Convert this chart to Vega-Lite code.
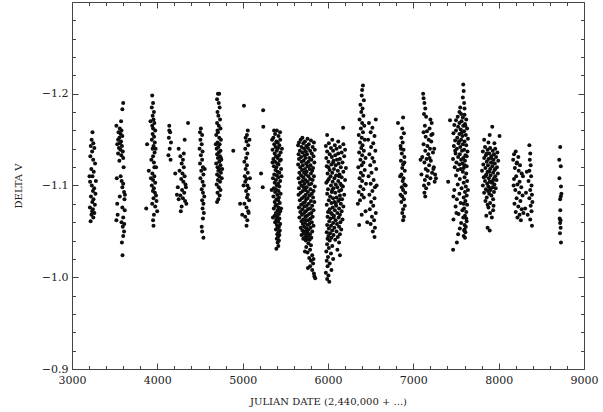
{
  "$schema": "https://vega.github.io/schema/vega-lite/v6.json",
  "width": 512,
  "height": 367,
  "autosize": {"type": "none"},
  "padding": {"left": 72, "top": 2, "right": 19, "bottom": 41},
  "config": {
    "view": {"stroke": null},
    "font": "DejaVu Serif",
    "axis": {
      "grid": false,
      "domainColor": "#444",
      "domainWidth": 1,
      "tickColor": "#444",
      "tickWidth": 1,
      "labelFont": "DejaVu Serif",
      "labelFontSize": 11,
      "labelColor": "#222",
      "labelFlush": false,
      "labelOverlap": false,
      "labelBound": false,
      "titleFont": "DejaVu Serif",
      "titleFontSize": 10,
      "titleFontWeight": "normal",
      "titleColor": "#222"
    }
  },
  "data": {"values": [
    {"jd":3240,"dv":-1.158},{"jd":3230,"dv":-1.150},{"jd":3250,"dv":-1.146},{"jd":3220,"dv":-1.143},{"jd":3262,"dv":-1.141},{"jd":3236,"dv":-1.137},{"jd":3215,"dv":-1.132},{"jd":3248,"dv":-1.128},{"jd":3270,"dv":-1.124},{"jd":3226,"dv":-1.118},{"jd":3255,"dv":-1.115},{"jd":3240,"dv":-1.110},{"jd":3212,"dv":-1.104},{"jd":3232,"dv":-1.100},{"jd":3260,"dv":-1.097},{"jd":3245,"dv":-1.094},{"jd":3275,"dv":-1.091},{"jd":3222,"dv":-1.088},{"jd":3252,"dv":-1.085},{"jd":3238,"dv":-1.082},{"jd":3268,"dv":-1.079},{"jd":3210,"dv":-1.076},{"jd":3245,"dv":-1.074},{"jd":3262,"dv":-1.070},{"jd":3228,"dv":-1.068},{"jd":3250,"dv":-1.065},{"jd":3218,"dv":-1.061},{"jd":3236,"dv":-1.072},{"jd":3280,"dv":-1.105},{"jd":3205,"dv":-1.110},
    {"jd":3600,"dv":-1.190},{"jd":3590,"dv":-1.183},{"jd":3575,"dv":-1.170},{"jd":3520,"dv":-1.165},{"jd":3560,"dv":-1.162},{"jd":3580,"dv":-1.160},{"jd":3545,"dv":-1.158},{"jd":3570,"dv":-1.156},{"jd":3590,"dv":-1.154},{"jd":3555,"dv":-1.152},{"jd":3540,"dv":-1.150},{"jd":3575,"dv":-1.148},{"jd":3560,"dv":-1.146},{"jd":3530,"dv":-1.145},{"jd":3585,"dv":-1.143},{"jd":3550,"dv":-1.141},{"jd":3568,"dv":-1.139},{"jd":3595,"dv":-1.137},{"jd":3540,"dv":-1.135},{"jd":3578,"dv":-1.133},{"jd":3600,"dv":-1.130},{"jd":3555,"dv":-1.127},{"jd":3605,"dv":-1.120},{"jd":3570,"dv":-1.110},{"jd":3525,"dv":-1.108},{"jd":3582,"dv":-1.105},{"jd":3600,"dv":-1.102},{"jd":3590,"dv":-1.098},{"jd":3610,"dv":-1.093},{"jd":3620,"dv":-1.090},{"jd":3560,"dv":-1.088},{"jd":3615,"dv":-1.085},{"jd":3530,"dv":-1.080},{"jd":3590,"dv":-1.076},{"jd":3618,"dv":-1.073},{"jd":3535,"dv":-1.068},{"jd":3600,"dv":-1.065},{"jd":3520,"dv":-1.062},{"jd":3580,"dv":-1.060},{"jd":3612,"dv":-1.058},{"jd":3595,"dv":-1.055},{"jd":3600,"dv":-1.045},{"jd":3585,"dv":-1.038},{"jd":3592,"dv":-1.024},{"jd":3610,"dv":-1.050},
    {"jd":3940,"dv":-1.198},{"jd":3950,"dv":-1.190},{"jd":3935,"dv":-1.185},{"jd":3960,"dv":-1.180},{"jd":3945,"dv":-1.176},{"jd":3955,"dv":-1.172},{"jd":3965,"dv":-1.168},{"jd":3940,"dv":-1.165},{"jd":3950,"dv":-1.162},{"jd":3975,"dv":-1.160},{"jd":3945,"dv":-1.156},{"jd":3962,"dv":-1.153},{"jd":3935,"dv":-1.150},{"jd":3970,"dv":-1.147},{"jd":3880,"dv":-1.145},{"jd":3955,"dv":-1.143},{"jd":3945,"dv":-1.140},{"jd":3968,"dv":-1.136},{"jd":3950,"dv":-1.132},{"jd":3930,"dv":-1.128},{"jd":3960,"dv":-1.125},{"jd":3985,"dv":-1.120},{"jd":3900,"dv":-1.116},{"jd":3942,"dv":-1.113},{"jd":3965,"dv":-1.110},{"jd":3950,"dv":-1.106},{"jd":3975,"dv":-1.103},{"jd":3935,"dv":-1.100},{"jd":3960,"dv":-1.097},{"jd":3948,"dv":-1.094},{"jd":3972,"dv":-1.092},{"jd":3985,"dv":-1.089},{"jd":3955,"dv":-1.086},{"jd":3990,"dv":-1.083},{"jd":3940,"dv":-1.080},{"jd":3975,"dv":-1.077},{"jd":3870,"dv":-1.075},{"jd":3998,"dv":-1.072},{"jd":3960,"dv":-1.068},{"jd":3950,"dv":-1.062},{"jd":3955,"dv":-1.056},{"jd":3965,"dv":-1.120},{"jd":3925,"dv":-1.108},{"jd":3980,"dv":-1.140},{"jd":3920,"dv":-1.170},
    {"jd":4140,"dv":-1.165},{"jd":4150,"dv":-1.158},{"jd":4135,"dv":-1.152},{"jd":4160,"dv":-1.147},{"jd":4145,"dv":-1.140},{"jd":4130,"dv":-1.133},{"jd":4155,"dv":-1.128},{"jd":4140,"dv":-1.160},{"jd":4360,"dv":-1.168},{"jd":4320,"dv":-1.150},{"jd":4250,"dv":-1.140},{"jd":4270,"dv":-1.132},{"jd":4300,"dv":-1.128},{"jd":4285,"dv":-1.124},{"jd":4310,"dv":-1.120},{"jd":4260,"dv":-1.116},{"jd":4295,"dv":-1.113},{"jd":4320,"dv":-1.110},{"jd":4280,"dv":-1.107},{"jd":4305,"dv":-1.104},{"jd":4330,"dv":-1.101},{"jd":4240,"dv":-1.098},{"jd":4290,"dv":-1.095},{"jd":4315,"dv":-1.092},{"jd":4270,"dv":-1.089},{"jd":4300,"dv":-1.086},{"jd":4325,"dv":-1.083},{"jd":4340,"dv":-1.080},{"jd":4285,"dv":-1.077},{"jd":4230,"dv":-1.090},{"jd":4250,"dv":-1.085},{"jd":4210,"dv":-1.113},{"jd":4310,"dv":-1.135},{"jd":4335,"dv":-1.098},{"jd":4275,"dv":-1.072},
    {"jd":4510,"dv":-1.162},{"jd":4500,"dv":-1.158},{"jd":4525,"dv":-1.155},{"jd":4505,"dv":-1.150},{"jd":4520,"dv":-1.145},{"jd":4495,"dv":-1.140},{"jd":4530,"dv":-1.137},{"jd":4510,"dv":-1.133},{"jd":4525,"dv":-1.128},{"jd":4500,"dv":-1.124},{"jd":4535,"dv":-1.120},{"jd":4515,"dv":-1.116},{"jd":4540,"dv":-1.112},{"jd":4505,"dv":-1.108},{"jd":4530,"dv":-1.104},{"jd":4545,"dv":-1.100},{"jd":4520,"dv":-1.096},{"jd":4535,"dv":-1.092},{"jd":4550,"dv":-1.088},{"jd":4525,"dv":-1.084},{"jd":4540,"dv":-1.080},{"jd":4530,"dv":-1.075},{"jd":4545,"dv":-1.070},{"jd":4535,"dv":-1.064},{"jd":4520,"dv":-1.055},{"jd":4525,"dv":-1.050},{"jd":4540,"dv":-1.043},{"jd":4555,"dv":-1.118},
    {"jd":4710,"dv":-1.200},{"jd":4725,"dv":-1.200},{"jd":4700,"dv":-1.194},{"jd":4720,"dv":-1.190},{"jd":4730,"dv":-1.185},{"jd":4705,"dv":-1.180},{"jd":4715,"dv":-1.176},{"jd":4735,"dv":-1.172},{"jd":4700,"dv":-1.168},{"jd":4720,"dv":-1.165},{"jd":4740,"dv":-1.162},{"jd":4710,"dv":-1.158},{"jd":4690,"dv":-1.155},{"jd":4725,"dv":-1.152},{"jd":4745,"dv":-1.150},{"jd":4705,"dv":-1.147},{"jd":4730,"dv":-1.145},{"jd":4715,"dv":-1.142},{"jd":4695,"dv":-1.140},{"jd":4740,"dv":-1.138},{"jd":4720,"dv":-1.136},{"jd":4700,"dv":-1.134},{"jd":4735,"dv":-1.132},{"jd":4710,"dv":-1.130},{"jd":4750,"dv":-1.128},{"jd":4725,"dv":-1.126},{"jd":4690,"dv":-1.124},{"jd":4740,"dv":-1.122},{"jd":4705,"dv":-1.120},{"jd":4730,"dv":-1.118},{"jd":4715,"dv":-1.116},{"jd":4745,"dv":-1.114},{"jd":4700,"dv":-1.112},{"jd":4725,"dv":-1.110},{"jd":4755,"dv":-1.108},{"jd":4710,"dv":-1.106},{"jd":4735,"dv":-1.104},{"jd":4695,"dv":-1.101},{"jd":4720,"dv":-1.098},{"jd":4740,"dv":-1.095},{"jd":4705,"dv":-1.092},{"jd":4730,"dv":-1.089},{"jd":4715,"dv":-1.085},{"jd":4700,"dv":-1.082},{"jd":4745,"dv":-1.130},{"jd":4685,"dv":-1.145},{"jd":4760,"dv":-1.118},{"jd":4705,"dv":-1.160},
    {"jd":4890,"dv":-1.138},{"jd":5015,"dv":-1.187},{"jd":5060,"dv":-1.160},{"jd":5050,"dv":-1.155},{"jd":5035,"dv":-1.152},{"jd":5045,"dv":-1.148},{"jd":5065,"dv":-1.144},{"jd":5030,"dv":-1.140},{"jd":5055,"dv":-1.135},{"jd":5040,"dv":-1.130},{"jd":5020,"dv":-1.126},{"jd":5050,"dv":-1.122},{"jd":5035,"dv":-1.118},{"jd":5060,"dv":-1.114},{"jd":5025,"dv":-1.110},{"jd":5045,"dv":-1.107},{"jd":5030,"dv":-1.104},{"jd":5055,"dv":-1.100},{"jd":5070,"dv":-1.097},{"jd":5040,"dv":-1.094},{"jd":5060,"dv":-1.090},{"jd":5050,"dv":-1.087},{"jd":5075,"dv":-1.084},{"jd":5020,"dv":-1.080},{"jd":5045,"dv":-1.076},{"jd":5065,"dv":-1.072},{"jd":4970,"dv":-1.080},{"jd":4995,"dv":-1.068},{"jd":5030,"dv":-1.066},{"jd":5055,"dv":-1.062},{"jd":5045,"dv":-1.056},{"jd":5070,"dv":-1.070},{"jd":5080,"dv":-1.150},{"jd":5010,"dv":-1.100},{"jd":5085,"dv":-1.108},
    {"jd":5240,"dv":-1.182},{"jd":5242,"dv":-1.164},{"jd":5215,"dv":-1.113},{"jd":5235,"dv":-1.098},
    {"jd":5400,"dv":-1.160},{"jd":5380,"dv":-1.156},{"jd":5420,"dv":-1.154},{"jd":5360,"dv":-1.152},{"jd":5440,"dv":-1.150},{"jd":5395,"dv":-1.148},{"jd":5410,"dv":-1.147},{"jd":5370,"dv":-1.145},{"jd":5430,"dv":-1.144},{"jd":5385,"dv":-1.142},{"jd":5415,"dv":-1.141},{"jd":5350,"dv":-1.139},{"jd":5400,"dv":-1.138},{"jd":5445,"dv":-1.136},{"jd":5375,"dv":-1.135},{"jd":5425,"dv":-1.133},{"jd":5390,"dv":-1.132},{"jd":5410,"dv":-1.130},{"jd":5360,"dv":-1.129},{"jd":5435,"dv":-1.127},{"jd":5380,"dv":-1.126},{"jd":5405,"dv":-1.124},{"jd":5420,"dv":-1.123},{"jd":5365,"dv":-1.121},{"jd":5395,"dv":-1.120},{"jd":5450,"dv":-1.118},{"jd":5385,"dv":-1.117},{"jd":5410,"dv":-1.115},{"jd":5430,"dv":-1.114},{"jd":5370,"dv":-1.112},{"jd":5400,"dv":-1.111},{"jd":5420,"dv":-1.109},{"jd":5355,"dv":-1.108},{"jd":5390,"dv":-1.106},{"jd":5440,"dv":-1.105},{"jd":5375,"dv":-1.103},{"jd":5415,"dv":-1.102},{"jd":5400,"dv":-1.100},{"jd":5430,"dv":-1.099},{"jd":5365,"dv":-1.097},{"jd":5390,"dv":-1.096},{"jd":5420,"dv":-1.094},{"jd":5380,"dv":-1.093},{"jd":5445,"dv":-1.091},{"jd":5405,"dv":-1.090},{"jd":5360,"dv":-1.088},{"jd":5425,"dv":-1.087},{"jd":5395,"dv":-1.085},{"jd":5415,"dv":-1.084},{"jd":5375,"dv":-1.082},{"jd":5435,"dv":-1.081},{"jd":5400,"dv":-1.079},{"jd":5385,"dv":-1.078},{"jd":5420,"dv":-1.076},{"jd":5365,"dv":-1.075},{"jd":5410,"dv":-1.073},{"jd":5440,"dv":-1.072},{"jd":5390,"dv":-1.070},{"jd":5425,"dv":-1.069},{"jd":5375,"dv":-1.067},{"jd":5405,"dv":-1.066},{"jd":5430,"dv":-1.064},{"jd":5395,"dv":-1.063},{"jd":5415,"dv":-1.061},{"jd":5380,"dv":-1.060},{"jd":5440,"dv":-1.058},{"jd":5400,"dv":-1.057},{"jd":5425,"dv":-1.055},{"jd":5410,"dv":-1.054},{"jd":5390,"dv":-1.052},{"jd":5435,"dv":-1.051},{"jd":5420,"dv":-1.049},{"jd":5405,"dv":-1.047},{"jd":5430,"dv":-1.046},{"jd":5415,"dv":-1.044},{"jd":5400,"dv":-1.042},{"jd":5425,"dv":-1.040},{"jd":5410,"dv":-1.038},{"jd":5418,"dv":-1.034},{"jd":5395,"dv":-1.031},{"jd":5350,"dv":-1.125},{"jd":5455,"dv":-1.110},{"jd":5340,"dv":-1.095},{"jd":5460,"dv":-1.140},{"jd":5345,"dv":-1.150},{"jd":5450,"dv":-1.075},{"jd":5355,"dv":-1.065},{"jd":5448,"dv":-1.128},{"jd":5368,"dv":-1.160},{"jd":5438,"dv":-1.158},
    {"jd":5700,"dv":-1.152},{"jd":5760,"dv":-1.151},{"jd":5680,"dv":-1.150},{"jd":5800,"dv":-1.149},{"jd":5730,"dv":-1.148},{"jd":5660,"dv":-1.147},{"jd":5835,"dv":-1.147},{"jd":5710,"dv":-1.146},{"jd":5775,"dv":-1.145},{"jd":5650,"dv":-1.144},{"jd":5745,"dv":-1.143},{"jd":5820,"dv":-1.142},{"jd":5690,"dv":-1.142},{"jd":5765,"dv":-1.141},{"jd":5720,"dv":-1.140},{"jd":5845,"dv":-1.139},{"jd":5670,"dv":-1.138},{"jd":5790,"dv":-1.138},{"jd":5740,"dv":-1.137},{"jd":5700,"dv":-1.136},{"jd":5810,"dv":-1.135},{"jd":5655,"dv":-1.134},{"jd":5755,"dv":-1.134},{"jd":5725,"dv":-1.133},{"jd":5830,"dv":-1.132},{"jd":5685,"dv":-1.131},{"jd":5780,"dv":-1.130},{"jd":5735,"dv":-1.130},{"jd":5660,"dv":-1.129},{"jd":5805,"dv":-1.128},{"jd":5715,"dv":-1.127},{"jd":5770,"dv":-1.126},{"jd":5690,"dv":-1.126},{"jd":5840,"dv":-1.125},{"jd":5745,"dv":-1.124},{"jd":5650,"dv":-1.123},{"jd":5795,"dv":-1.122},{"jd":5705,"dv":-1.122},{"jd":5760,"dv":-1.121},{"jd":5675,"dv":-1.120},{"jd":5825,"dv":-1.119},{"jd":5730,"dv":-1.118},{"jd":5785,"dv":-1.118},{"jd":5695,"dv":-1.117},{"jd":5815,"dv":-1.116},{"jd":5750,"dv":-1.115},{"jd":5665,"dv":-1.114},{"jd":5720,"dv":-1.114},{"jd":5800,"dv":-1.113},{"jd":5740,"dv":-1.112},{"jd":5685,"dv":-1.111},{"jd":5835,"dv":-1.110},{"jd":5770,"dv":-1.110},{"jd":5710,"dv":-1.109},{"jd":5655,"dv":-1.108},{"jd":5790,"dv":-1.107},{"jd":5735,"dv":-1.106},{"jd":5820,"dv":-1.106},{"jd":5700,"dv":-1.105},{"jd":5760,"dv":-1.104},{"jd":5670,"dv":-1.103},{"jd":5805,"dv":-1.102},{"jd":5725,"dv":-1.102},{"jd":5780,"dv":-1.101},{"jd":5690,"dv":-1.100},{"jd":5845,"dv":-1.099},{"jd":5750,"dv":-1.098},{"jd":5715,"dv":-1.098},{"jd":5660,"dv":-1.097},{"jd":5795,"dv":-1.096},{"jd":5735,"dv":-1.095},{"jd":5830,"dv":-1.094},{"jd":5705,"dv":-1.094},{"jd":5765,"dv":-1.093},{"jd":5680,"dv":-1.092},{"jd":5810,"dv":-1.091},{"jd":5740,"dv":-1.090},{"jd":5655,"dv":-1.090},{"jd":5785,"dv":-1.089},{"jd":5720,"dv":-1.088},{"jd":5825,"dv":-1.087},{"jd":5695,"dv":-1.086},{"jd":5760,"dv":-1.086},{"jd":5745,"dv":-1.085},{"jd":5670,"dv":-1.084},{"jd":5800,"dv":-1.083},{"jd":5730,"dv":-1.082},{"jd":5840,"dv":-1.082},{"jd":5710,"dv":-1.081},{"jd":5775,"dv":-1.080},{"jd":5685,"dv":-1.079},{"jd":5815,"dv":-1.078},{"jd":5750,"dv":-1.078},{"jd":5725,"dv":-1.077},{"jd":5660,"dv":-1.076},{"jd":5790,"dv":-1.075},{"jd":5700,"dv":-1.074},{"jd":5765,"dv":-1.074},{"jd":5830,"dv":-1.073},{"jd":5740,"dv":-1.072},{"jd":5675,"dv":-1.071},{"jd":5805,"dv":-1.070},{"jd":5720,"dv":-1.070},{"jd":5780,"dv":-1.069},{"jd":5695,"dv":-1.068},{"jd":5755,"dv":-1.067},{"jd":5820,"dv":-1.066},{"jd":5735,"dv":-1.066},{"jd":5665,"dv":-1.065},{"jd":5795,"dv":-1.064},{"jd":5710,"dv":-1.063},{"jd":5770,"dv":-1.062},{"jd":5745,"dv":-1.062},{"jd":5690,"dv":-1.061},{"jd":5810,"dv":-1.060},{"jd":5730,"dv":-1.059},{"jd":5780,"dv":-1.058},{"jd":5705,"dv":-1.058},{"jd":5760,"dv":-1.057},{"jd":5830,"dv":-1.056},{"jd":5720,"dv":-1.055},{"jd":5680,"dv":-1.054},{"jd":5795,"dv":-1.054},{"jd":5745,"dv":-1.053},{"jd":5770,"dv":-1.052},{"jd":5700,"dv":-1.051},{"jd":5815,"dv":-1.050},{"jd":5735,"dv":-1.050},{"jd":5760,"dv":-1.049},{"jd":5715,"dv":-1.048},{"jd":5790,"dv":-1.047},{"jd":5750,"dv":-1.046},{"jd":5690,"dv":-1.046},{"jd":5775,"dv":-1.045},{"jd":5730,"dv":-1.044},{"jd":5805,"dv":-1.043},{"jd":5755,"dv":-1.042},{"jd":5710,"dv":-1.042},{"jd":5785,"dv":-1.041},{"jd":5740,"dv":-1.040},{"jd":5770,"dv":-1.037},{"jd":5800,"dv":-1.035},{"jd":5745,"dv":-1.033},{"jd":5790,"dv":-1.030},{"jd":5760,"dv":-1.027},{"jd":5815,"dv":-1.024},{"jd":5780,"dv":-1.021},{"jd":5800,"dv":-1.018},{"jd":5825,"dv":-1.015},{"jd":5790,"dv":-1.012},{"jd":5815,"dv":-1.008},{"jd":5835,"dv":-1.004},{"jd":5840,"dv":-1.001},{"jd":5850,"dv":-0.999},{"jd":5830,"dv":-1.020},{"jd":5765,"dv":-1.010},{"jd":5730,"dv":-1.028},
    {"jd":5990,"dv":-1.155},{"jd":6050,"dv":-1.150},{"jd":6120,"dv":-1.148},{"jd":6010,"dv":-1.146},{"jd":6180,"dv":-1.145},{"jd":6080,"dv":-1.144},{"jd":5975,"dv":-1.143},{"jd":6140,"dv":-1.142},{"jd":6035,"dv":-1.141},{"jd":6100,"dv":-1.140},{"jd":6200,"dv":-1.139},{"jd":6060,"dv":-1.138},{"jd":5990,"dv":-1.137},{"jd":6160,"dv":-1.136},{"jd":6120,"dv":-1.135},{"jd":6020,"dv":-1.134},{"jd":6085,"dv":-1.133},{"jd":6190,"dv":-1.132},{"jd":6045,"dv":-1.131},{"jd":5980,"dv":-1.130},{"jd":6140,"dv":-1.129},{"jd":6105,"dv":-1.128},{"jd":6065,"dv":-1.127},{"jd":6005,"dv":-1.126},{"jd":6170,"dv":-1.125},{"jd":6125,"dv":-1.124},{"jd":6040,"dv":-1.123},{"jd":6090,"dv":-1.122},{"jd":5985,"dv":-1.121},{"jd":6150,"dv":-1.120},{"jd":6210,"dv":-1.119},{"jd":6070,"dv":-1.118},{"jd":6020,"dv":-1.117},{"jd":6115,"dv":-1.116},{"jd":6180,"dv":-1.115},{"jd":6050,"dv":-1.114},{"jd":5995,"dv":-1.113},{"jd":6135,"dv":-1.112},{"jd":6095,"dv":-1.111},{"jd":6030,"dv":-1.110},{"jd":6160,"dv":-1.109},{"jd":6075,"dv":-1.108},{"jd":6010,"dv":-1.107},{"jd":6200,"dv":-1.106},{"jd":6120,"dv":-1.105},{"jd":6055,"dv":-1.104},{"jd":5980,"dv":-1.103},{"jd":6145,"dv":-1.102},{"jd":6090,"dv":-1.101},{"jd":6035,"dv":-1.100},{"jd":6175,"dv":-1.099},{"jd":6110,"dv":-1.098},{"jd":6065,"dv":-1.097},{"jd":6000,"dv":-1.096},{"jd":6155,"dv":-1.095},{"jd":6130,"dv":-1.094},{"jd":6045,"dv":-1.093},{"jd":6085,"dv":-1.092},{"jd":5990,"dv":-1.091},{"jd":6190,"dv":-1.090},{"jd":6140,"dv":-1.089},{"jd":6025,"dv":-1.088},{"jd":6100,"dv":-1.087},{"jd":6060,"dv":-1.086},{"jd":6165,"dv":-1.085},{"jd":6010,"dv":-1.084},{"jd":6120,"dv":-1.083},{"jd":6075,"dv":-1.082},{"jd":6040,"dv":-1.081},{"jd":6150,"dv":-1.080},{"jd":5985,"dv":-1.079},{"jd":6095,"dv":-1.078},{"jd":6180,"dv":-1.077},{"jd":6055,"dv":-1.076},{"jd":6130,"dv":-1.075},{"jd":6020,"dv":-1.074},{"jd":6080,"dv":-1.073},{"jd":6160,"dv":-1.072},{"jd":6000,"dv":-1.071},{"jd":6110,"dv":-1.070},{"jd":6045,"dv":-1.069},{"jd":6140,"dv":-1.068},{"jd":6070,"dv":-1.067},{"jd":5995,"dv":-1.066},{"jd":6125,"dv":-1.065},{"jd":6030,"dv":-1.064},{"jd":6170,"dv":-1.063},{"jd":6090,"dv":-1.062},{"jd":6015,"dv":-1.061},{"jd":6145,"dv":-1.060},{"jd":6060,"dv":-1.059},{"jd":6105,"dv":-1.058},{"jd":5990,"dv":-1.057},{"jd":6035,"dv":-1.056},{"jd":6130,"dv":-1.055},{"jd":6075,"dv":-1.054},{"jd":6010,"dv":-1.053},{"jd":6155,"dv":-1.052},{"jd":6050,"dv":-1.051},{"jd":6100,"dv":-1.050},{"jd":5985,"dv":-1.049},{"jd":6025,"dv":-1.048},{"jd":6140,"dv":-1.047},{"jd":6065,"dv":-1.046},{"jd":6005,"dv":-1.045},{"jd":6115,"dv":-1.044},{"jd":6040,"dv":-1.043},{"jd":5995,"dv":-1.042},{"jd":6085,"dv":-1.041},{"jd":6020,"dv":-1.040},{"jd":6130,"dv":-1.038},{"jd":5990,"dv":-1.036},{"jd":6050,"dv":-1.034},{"jd":6010,"dv":-1.032},{"jd":6110,"dv":-1.030},{"jd":5980,"dv":-1.028},{"jd":6035,"dv":-1.026},{"jd":6140,"dv":-1.024},{"jd":6000,"dv":-1.022},{"jd":6060,"dv":-1.020},{"jd":5985,"dv":-1.018},{"jd":6020,"dv":-1.015},{"jd":5995,"dv":-1.012},{"jd":6040,"dv":-1.008},{"jd":5975,"dv":-1.005},{"jd":6005,"dv":-1.002},{"jd":5990,"dv":-0.998},{"jd":6015,"dv":-0.995},{"jd":6060,"dv":-1.125},{"jd":6130,"dv":-1.110},{"jd":6050,"dv":-1.095},{"jd":6090,"dv":-1.080},{"jd":6065,"dv":-1.065},{"jd":5995,"dv":-1.105},{"jd":6140,"dv":-1.085},{"jd":6035,"dv":-1.070},{"jd":6005,"dv":-1.120},{"jd":6160,"dv":-1.100},
    {"jd":6177,"dv":-1.163},
    {"jd":6410,"dv":-1.209},{"jd":6400,"dv":-1.204},{"jd":6395,"dv":-1.198},{"jd":6420,"dv":-1.193},{"jd":6380,"dv":-1.188},{"jd":6405,"dv":-1.184},{"jd":6390,"dv":-1.180},{"jd":6415,"dv":-1.176},{"jd":6370,"dv":-1.172},{"jd":6400,"dv":-1.168},{"jd":6425,"dv":-1.165},{"jd":6385,"dv":-1.162},{"jd":6410,"dv":-1.158},{"jd":6360,"dv":-1.155},{"jd":6395,"dv":-1.152},{"jd":6430,"dv":-1.150},{"jd":6375,"dv":-1.147},{"jd":6405,"dv":-1.144},{"jd":6390,"dv":-1.141},{"jd":6420,"dv":-1.138},{"jd":6365,"dv":-1.136},{"jd":6400,"dv":-1.133},{"jd":6440,"dv":-1.130},{"jd":6380,"dv":-1.128},{"jd":6415,"dv":-1.125},{"jd":6395,"dv":-1.122},{"jd":6355,"dv":-1.120},{"jd":6430,"dv":-1.117},{"jd":6385,"dv":-1.114},{"jd":6410,"dv":-1.111},{"jd":6370,"dv":-1.108},{"jd":6400,"dv":-1.105},{"jd":6445,"dv":-1.102},{"jd":6380,"dv":-1.099},{"jd":6415,"dv":-1.096},{"jd":6360,"dv":-1.093},{"jd":6395,"dv":-1.090},{"jd":6420,"dv":-1.087},{"jd":6375,"dv":-1.084},{"jd":6350,"dv":-1.080},{"jd":6365,"dv":-1.057},{"jd":6395,"dv":-1.068},
    {"jd":6560,"dv":-1.172},{"jd":6480,"dv":-1.168},{"jd":6520,"dv":-1.163},{"jd":6500,"dv":-1.158},{"jd":6545,"dv":-1.154},{"jd":6470,"dv":-1.150},{"jd":6530,"dv":-1.146},{"jd":6505,"dv":-1.142},{"jd":6555,"dv":-1.138},{"jd":6485,"dv":-1.134},{"jd":6520,"dv":-1.130},{"jd":6540,"dv":-1.126},{"jd":6495,"dv":-1.122},{"jd":6565,"dv":-1.118},{"jd":6510,"dv":-1.114},{"jd":6475,"dv":-1.110},{"jd":6535,"dv":-1.106},{"jd":6500,"dv":-1.102},{"jd":6550,"dv":-1.098},{"jd":6520,"dv":-1.094},{"jd":6485,"dv":-1.090},{"jd":6545,"dv":-1.086},{"jd":6505,"dv":-1.082},{"jd":6530,"dv":-1.078},{"jd":6490,"dv":-1.074},{"jd":6560,"dv":-1.070},{"jd":6515,"dv":-1.066},{"jd":6540,"dv":-1.062},{"jd":6500,"dv":-1.058},{"jd":6550,"dv":-1.054},{"jd":6525,"dv":-1.050},{"jd":6545,"dv":-1.044},{"jd":6460,"dv":-1.060},{"jd":6440,"dv":-1.072},{"jd":6570,"dv":-1.100},
    {"jd":6880,"dv":-1.174},{"jd":6820,"dv":-1.168},{"jd":6870,"dv":-1.162},{"jd":6890,"dv":-1.157},{"jd":6860,"dv":-1.152},{"jd":6875,"dv":-1.147},{"jd":6850,"dv":-1.143},{"jd":6885,"dv":-1.139},{"jd":6865,"dv":-1.135},{"jd":6895,"dv":-1.131},{"jd":6855,"dv":-1.127},{"jd":6880,"dv":-1.123},{"jd":6870,"dv":-1.119},{"jd":6900,"dv":-1.116},{"jd":6860,"dv":-1.112},{"jd":6885,"dv":-1.108},{"jd":6875,"dv":-1.105},{"jd":6895,"dv":-1.101},{"jd":6865,"dv":-1.098},{"jd":6880,"dv":-1.095},{"jd":6905,"dv":-1.092},{"jd":6870,"dv":-1.088},{"jd":6890,"dv":-1.085},{"jd":6860,"dv":-1.082},{"jd":6900,"dv":-1.078},{"jd":6880,"dv":-1.074},{"jd":6870,"dv":-1.070},{"jd":6890,"dv":-1.066},{"jd":6880,"dv":-1.062},{"jd":6855,"dv":-1.140},{"jd":6895,"dv":-1.125},{"jd":6845,"dv":-1.110},{"jd":6910,"dv":-1.100},{"jd":6850,"dv":-1.090},
    {"jd":7115,"dv":-1.200},{"jd":7120,"dv":-1.195},{"jd":7130,"dv":-1.190},{"jd":7140,"dv":-1.184},{"jd":7125,"dv":-1.178},{"jd":7150,"dv":-1.175},{"jd":7200,"dv":-1.172},{"jd":7215,"dv":-1.168},{"jd":7135,"dv":-1.165},{"jd":7190,"dv":-1.162},{"jd":7160,"dv":-1.159},{"jd":7225,"dv":-1.156},{"jd":7145,"dv":-1.153},{"jd":7180,"dv":-1.150},{"jd":7210,"dv":-1.148},{"jd":7120,"dv":-1.145},{"jd":7165,"dv":-1.143},{"jd":7195,"dv":-1.140},{"jd":7140,"dv":-1.138},{"jd":7230,"dv":-1.136},{"jd":7175,"dv":-1.134},{"jd":7105,"dv":-1.131},{"jd":7155,"dv":-1.129},{"jd":7205,"dv":-1.127},{"jd":7130,"dv":-1.125},{"jd":7185,"dv":-1.122},{"jd":7240,"dv":-1.120},{"jd":7145,"dv":-1.118},{"jd":7170,"dv":-1.116},{"jd":7220,"dv":-1.114},{"jd":7095,"dv":-1.112},{"jd":7160,"dv":-1.110},{"jd":7200,"dv":-1.108},{"jd":7135,"dv":-1.106},{"jd":7250,"dv":-1.104},{"jd":7180,"dv":-1.102},{"jd":7125,"dv":-1.100},{"jd":7150,"dv":-1.097},{"jd":7235,"dv":-1.118},{"jd":7255,"dv":-1.112},{"jd":7265,"dv":-1.108},{"jd":7130,"dv":-1.092},{"jd":7140,"dv":-1.088},{"jd":7085,"dv":-1.128},{"jd":7190,"dv":-1.130},{"jd":7210,"dv":-1.155},{"jd":7245,"dv":-1.140},{"jd":7120,"dv":-1.158},
    {"jd":7585,"dv":-1.210},{"jd":7590,"dv":-1.203},{"jd":7580,"dv":-1.196},{"jd":7595,"dv":-1.190},{"jd":7550,"dv":-1.185},{"jd":7600,"dv":-1.184},{"jd":7540,"dv":-1.180},{"jd":7430,"dv":-1.171},
    {"jd":7560,"dv":-1.178},{"jd":7600,"dv":-1.177},{"jd":7520,"dv":-1.175},{"jd":7580,"dv":-1.174},{"jd":7620,"dv":-1.172},{"jd":7500,"dv":-1.171},{"jd":7565,"dv":-1.170},{"jd":7540,"dv":-1.168},{"jd":7605,"dv":-1.167},{"jd":7480,"dv":-1.166},{"jd":7585,"dv":-1.165},{"jd":7525,"dv":-1.164},{"jd":7630,"dv":-1.162},{"jd":7555,"dv":-1.161},{"jd":7500,"dv":-1.160},{"jd":7595,"dv":-1.159},{"jd":7470,"dv":-1.157},{"jd":7540,"dv":-1.156},{"jd":7615,"dv":-1.155},{"jd":7575,"dv":-1.154},{"jd":7515,"dv":-1.152},{"jd":7640,"dv":-1.151},{"jd":7560,"dv":-1.150},{"jd":7490,"dv":-1.149},{"jd":7600,"dv":-1.148},{"jd":7530,"dv":-1.146},{"jd":7580,"dv":-1.145},{"jd":7620,"dv":-1.144},{"jd":7475,"dv":-1.143},{"jd":7550,"dv":-1.142},{"jd":7510,"dv":-1.140},{"jd":7595,"dv":-1.139},{"jd":7570,"dv":-1.138},{"jd":7635,"dv":-1.137},{"jd":7495,"dv":-1.135},{"jd":7545,"dv":-1.134},{"jd":7610,"dv":-1.133},{"jd":7525,"dv":-1.131},{"jd":7585,"dv":-1.130},{"jd":7465,"dv":-1.129},{"jd":7560,"dv":-1.128},{"jd":7605,"dv":-1.127},{"jd":7505,"dv":-1.125},{"jd":7575,"dv":-1.124},{"jd":7540,"dv":-1.123},{"jd":7625,"dv":-1.121},{"jd":7485,"dv":-1.120},{"jd":7590,"dv":-1.119},{"jd":7555,"dv":-1.118},{"jd":7520,"dv":-1.117},{"jd":7610,"dv":-1.165},{"jd":7535,"dv":-1.148},{"jd":7625,"dv":-1.132},{"jd":7570,"dv":-1.158},{"jd":7490,"dv":-1.138},{"jd":7600,"dv":-1.122},
    {"jd":7580,"dv":-1.115},{"jd":7620,"dv":-1.113},{"jd":7500,"dv":-1.111},{"jd":7600,"dv":-1.109},{"jd":7545,"dv":-1.107},{"jd":7630,"dv":-1.105},{"jd":7408,"dv":-1.104},{"jd":7590,"dv":-1.103},{"jd":7520,"dv":-1.101},{"jd":7615,"dv":-1.099},{"jd":7565,"dv":-1.097},{"jd":7480,"dv":-1.095},{"jd":7605,"dv":-1.093},{"jd":7540,"dv":-1.091},{"jd":7625,"dv":-1.089},{"jd":7590,"dv":-1.087},{"jd":7510,"dv":-1.085},{"jd":7610,"dv":-1.083},{"jd":7555,"dv":-1.081},{"jd":7630,"dv":-1.079},{"jd":7495,"dv":-1.077},{"jd":7595,"dv":-1.075},{"jd":7575,"dv":-1.073},{"jd":7620,"dv":-1.071},{"jd":7530,"dv":-1.069},{"jd":7605,"dv":-1.067},{"jd":7585,"dv":-1.065},{"jd":7470,"dv":-1.063},{"jd":7625,"dv":-1.061},{"jd":7560,"dv":-1.059},{"jd":7600,"dv":-1.057},{"jd":7615,"dv":-1.055},{"jd":7545,"dv":-1.053},{"jd":7595,"dv":-1.051},{"jd":7610,"dv":-1.049},{"jd":7525,"dv":-1.047},{"jd":7590,"dv":-1.045},{"jd":7605,"dv":-1.043},{"jd":7510,"dv":-1.038},{"jd":7466,"dv":-1.030},{"jd":7600,"dv":-1.052},{"jd":7620,"dv":-1.064},{"jd":7590,"dv":-1.080},{"jd":7640,"dv":-1.095},{"jd":7505,"dv":-1.070},{"jd":7470,"dv":-1.088},
    {"jd":7925,"dv":-1.164},{"jd":8010,"dv":-1.154},{"jd":7895,"dv":-1.155},{"jd":7830,"dv":-1.150},{"jd":7880,"dv":-1.147},{"jd":7950,"dv":-1.146},
    {"jd":7840,"dv":-1.142},{"jd":7900,"dv":-1.141},{"jd":7960,"dv":-1.140},{"jd":7870,"dv":-1.139},{"jd":7930,"dv":-1.138},{"jd":7815,"dv":-1.137},{"jd":7985,"dv":-1.136},{"jd":7890,"dv":-1.135},{"jd":7945,"dv":-1.134},{"jd":7850,"dv":-1.133},{"jd":7915,"dv":-1.132},{"jd":7970,"dv":-1.131},{"jd":7830,"dv":-1.130},{"jd":7880,"dv":-1.129},{"jd":7940,"dv":-1.128},{"jd":7995,"dv":-1.127},{"jd":7860,"dv":-1.126},{"jd":7910,"dv":-1.125},{"jd":7955,"dv":-1.124},{"jd":7820,"dv":-1.123},{"jd":7875,"dv":-1.122},{"jd":7925,"dv":-1.121},{"jd":7980,"dv":-1.120},{"jd":7845,"dv":-1.119},{"jd":7900,"dv":-1.118},{"jd":7950,"dv":-1.117},{"jd":7805,"dv":-1.116},{"jd":7870,"dv":-1.115},{"jd":7935,"dv":-1.114},{"jd":7990,"dv":-1.113},{"jd":7855,"dv":-1.112},{"jd":7905,"dv":-1.111},{"jd":7960,"dv":-1.110},{"jd":7825,"dv":-1.109},{"jd":7885,"dv":-1.108},{"jd":7940,"dv":-1.107},{"jd":7975,"dv":-1.106},{"jd":7840,"dv":-1.105},{"jd":7895,"dv":-1.104},{"jd":7920,"dv":-1.103},{"jd":7865,"dv":-1.102},{"jd":7950,"dv":-1.101},{"jd":7815,"dv":-1.100},{"jd":7880,"dv":-1.099},{"jd":7930,"dv":-1.098},{"jd":7965,"dv":-1.097},{"jd":7850,"dv":-1.096},{"jd":7905,"dv":-1.095},{"jd":7875,"dv":-1.094},{"jd":7945,"dv":-1.093},{"jd":7830,"dv":-1.092},{"jd":7890,"dv":-1.091},{"jd":7915,"dv":-1.089},{"jd":7860,"dv":-1.087},{"jd":7935,"dv":-1.085},{"jd":7845,"dv":-1.083},{"jd":7900,"dv":-1.081},{"jd":7870,"dv":-1.079},{"jd":7920,"dv":-1.125},{"jd":7890,"dv":-1.115},{"jd":7860,"dv":-1.135},{"jd":7930,"dv":-1.105},{"jd":7900,"dv":-1.097},{"jd":7960,"dv":-1.118},{"jd":7845,"dv":-1.110},{"jd":7910,"dv":-1.130},
    {"jd":7880,"dv":-1.076},{"jd":7935,"dv":-1.073},{"jd":7900,"dv":-1.070},{"jd":7855,"dv":-1.067},{"jd":7920,"dv":-1.065},{"jd":7870,"dv":-1.054},{"jd":7895,"dv":-1.051},{"jd":7940,"dv":-1.078},
    {"jd":8200,"dv":-1.137},{"jd":8180,"dv":-1.134},{"jd":8230,"dv":-1.131},{"jd":8170,"dv":-1.128},{"jd":8215,"dv":-1.125},{"jd":8250,"dv":-1.122},{"jd":8190,"dv":-1.119},{"jd":8235,"dv":-1.116},{"jd":8270,"dv":-1.113},{"jd":8205,"dv":-1.110},{"jd":8180,"dv":-1.107},{"jd":8245,"dv":-1.104},{"jd":8220,"dv":-1.101},{"jd":8265,"dv":-1.098},{"jd":8195,"dv":-1.095},{"jd":8240,"dv":-1.092},{"jd":8280,"dv":-1.089},{"jd":8210,"dv":-1.086},{"jd":8255,"dv":-1.083},{"jd":8185,"dv":-1.080},{"jd":8230,"dv":-1.077},{"jd":8270,"dv":-1.074},{"jd":8200,"dv":-1.071},{"jd":8245,"dv":-1.068},{"jd":8220,"dv":-1.065},{"jd":8260,"dv":-1.062},{"jd":8290,"dv":-1.070},{"jd":8175,"dv":-1.100},{"jd":8285,"dv":-1.110},{"jd":8210,"dv":-1.124},
    {"jd":8360,"dv":-1.144},{"jd":8370,"dv":-1.135},{"jd":8365,"dv":-1.128},{"jd":8375,"dv":-1.122},{"jd":8360,"dv":-1.116},{"jd":8380,"dv":-1.110},{"jd":8350,"dv":-1.105},{"jd":8385,"dv":-1.100},{"jd":8370,"dv":-1.095},{"jd":8390,"dv":-1.090},{"jd":8360,"dv":-1.086},{"jd":8395,"dv":-1.082},{"jd":8375,"dv":-1.078},{"jd":8385,"dv":-1.072},{"jd":8340,"dv":-1.068},{"jd":8370,"dv":-1.063},{"jd":8390,"dv":-1.056},{"jd":8320,"dv":-1.092},{"jd":8310,"dv":-1.075},{"jd":8330,"dv":-1.115},
    {"jd":8721,"dv":-1.142},{"jd":8710,"dv":-1.128},{"jd":8728,"dv":-1.121},{"jd":8712,"dv":-1.108},{"jd":8730,"dv":-1.099},{"jd":8735,"dv":-1.091},{"jd":8728,"dv":-1.088},{"jd":8720,"dv":-1.085},{"jd":8722,"dv":-1.073},{"jd":8715,"dv":-1.064},{"jd":8720,"dv":-1.059},{"jd":8726,"dv":-1.054},{"jd":8718,"dv":-1.048},{"jd":8730,"dv":-1.038},{"jd":8725,"dv":-1.062}
  ]},
  "layer": [
    {
      "mark": {"type": "circle", "size": 16, "color": "#0d0d0d", "opacity": 1},
      "encoding": {
        "x": {
          "field": "jd", "type": "quantitative",
          "scale": {"domain": [3000, 9000], "nice": false, "zero": false},
          "axis": {
            "orient": "bottom",
            "title": "JULIAN DATE (2,440,000 + ...)",
            "values": [3000,3200,3400,3600,3800,4000,4200,4400,4600,4800,5000,5200,5400,5600,5800,6000,6200,6400,6600,6800,7000,7200,7400,7600,7800,8000,8200,8400,8600,8800,9000],
            "format": "d",
            "labelExpr": "datum.value % 1000 === 0 ? datum.label : ''",
            "tickSize": {"condition": {"test": "datum.value % 1000 === 0", "value": -6}, "value": -3.5},
            "labelPadding": 11,
            "titlePadding": 9
          }
        },
        "y": {
          "field": "dv", "type": "quantitative",
          "scale": {"domain": [-1.3, -0.9], "reverse": true, "nice": false, "zero": false},
          "axis": {
            "orient": "left",
            "title": "DELTA V",
            "values": [-1.28,-1.26,-1.24,-1.22,-1.2,-1.18,-1.16,-1.14,-1.12,-1.1,-1.08,-1.06,-1.04,-1.02,-1.0,-0.98,-0.96,-0.94,-0.92,-0.9],
            "format": ".1f",
            "labelExpr": "abs(datum.value * 10 - round(datum.value * 10)) < 0.000001 ? datum.label : ''",
            "tickSize": {"condition": {"test": "abs(datum.value * 10 - round(datum.value * 10)) < 0.000001", "value": -6}, "value": -3.5},
            "labelPadding": 10,
            "titlePadding": 18
          }
        }
      }
    },
    {
      "mark": {"type": "circle", "size": 16, "opacity": 0},
      "encoding": {
        "x": {
          "field": "jd", "type": "quantitative",
          "axis": {
            "orient": "top",
            "title": null,
            "labels": false,
            "values": [3000,3200,3400,3600,3800,4000,4200,4400,4600,4800,5000,5200,5400,5600,5800,6000,6200,6400,6600,6800,7000,7200,7400,7600,7800,8000,8200,8400,8600,8800,9000],
            "tickSize": {"condition": {"test": "datum.value % 1000 === 0", "value": -6}, "value": -3.5}
          }
        },
        "y": {
          "field": "dv", "type": "quantitative",
          "axis": {
            "orient": "right",
            "title": null,
            "labels": false,
            "values": [-1.28,-1.26,-1.24,-1.22,-1.2,-1.18,-1.16,-1.14,-1.12,-1.1,-1.08,-1.06,-1.04,-1.02,-1.0,-0.98,-0.96,-0.94,-0.92,-0.9],
            "tickSize": {"condition": {"test": "abs(datum.value * 10 - round(datum.value * 10)) < 0.000001", "value": -6}, "value": -3.5}
          }
        }
      }
    }
  ],
  "resolve": {"axis": {"x": "independent", "y": "independent"}}
}
